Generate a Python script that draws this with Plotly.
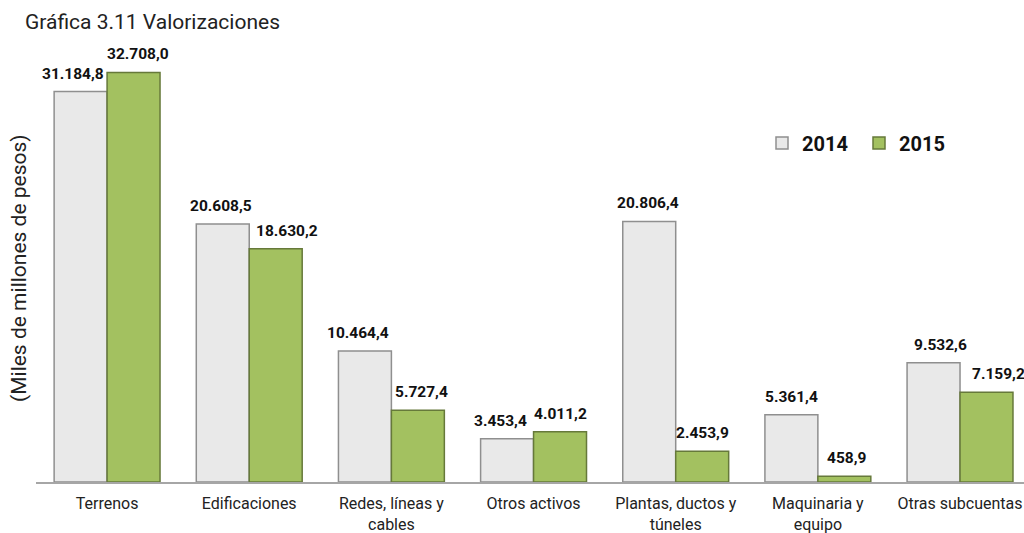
import plotly.graph_objects as go

categories = ["Terrenos", "Edificaciones", "Redes, líneas y<br>cables", "Otros activos",
              "Plantas, ductos y<br>túneles", "Maquinaria y<br>equipo", "Otras subcuentas"]
values_2014 = [31184.8, 20608.5, 10464.4, 3453.4, 20806.4, 5361.4, 9532.6]
values_2015 = [32708.0, 18630.2, 5727.4, 4011.2, 2453.9, 458.9, 7159.2]
labels_2014 = ["31.184,8", "20.608,5", "10.464,4", "3.453,4", "20.806,4", "5.361,4", "9.532,6"]
labels_2015 = ["32.708,0", "18.630,2", "5.727,4", "4.011,2", "2.453,9", "458,9", "7.159,2"]

# style: small horizontal nudges of data labels (px), as in the original
dx_2014 = [-8, -2, -7, -7, -1, 0, 7]
dx_2015 = [4, 11, 4, 0, 0, 2, 12]

W, H = 1024, 533
ML, MR, MT, MB = 36, 0, 50, 51
bar_half = 26.5

fig = go.Figure()
fig.add_trace(go.Bar(name="2014", x=categories, y=values_2014,
                     marker=dict(color="#e9e9e9", line=dict(color="#8f8f8f", width=1.5))))
fig.add_trace(go.Bar(name="2015", x=categories, y=values_2015,
                     marker=dict(color="#a3c160", line=dict(color="#66793a", width=1.5))))

lab_font = dict(family="Roboto", size=15.5, color="#111111", weight="bold")
ann = []
for i, c in enumerate(categories):
    ann.append(dict(x=c, y=values_2014[i], text=labels_2014[i], xref="x", yref="y",
                    showarrow=False, yanchor="bottom", yshift=7, xshift=-bar_half + dx_2014[i],
                    font=lab_font))
    ann.append(dict(x=c, y=values_2015[i], text=labels_2015[i], xref="x", yref="y",
                    showarrow=False, yanchor="bottom", yshift=7, xshift=bar_half + dx_2015[i],
                    font=lab_font))

plot_w = W - ML - MR
plot_h = H - MT - MB
ann.append(dict(text="(Miles de millones de pesos)", textangle=-90, showarrow=False,
                xref="paper", yref="paper", x=(19 - ML) / plot_w,
                y=(H - MB - 268) / plot_h,
                xanchor="center", yanchor="middle",
                font=dict(family="Roboto", size=21, color="#222222")))

fig.update_layout(
    width=W, height=H,
    margin=dict(l=ML, r=MR, t=MT, b=MB),
    paper_bgcolor="white", plot_bgcolor="white",
    barmode="group", bargap=0.255, bargroupgap=0,
    title=dict(text="Gráfica 3.11 Valorizaciones", xref="container", yref="container",
               x=25 / W, xanchor="left", y=1 - 22 / H, yanchor="middle",
               font=dict(family="Roboto", size=21, color="#222222")),
    xaxis=dict(range=[-0.5, 6.45], showgrid=False, showline=True, linecolor="#a6a6a6",
               linewidth=1.5, ticks="", ticklabelstandoff=6,
               tickfont=dict(family="Roboto", size=16, color="#222222")),
    yaxis=dict(range=[0, 34500], visible=False),
    legend=dict(orientation="h", x=(762 - ML) / plot_w,
                y=(H - MB - 143) / plot_h,
                xanchor="left", yanchor="middle", entrywidth=52,
                font=dict(family="Roboto", size=20, color="#111111", weight="bold"),
                bgcolor="rgba(0,0,0,0)"),
    annotations=ann,
)

fig.write_html("out.html", config={"displayModeBar": False},
               post_script="document.body.style.margin='0';document.body.style.overflow='hidden';")
